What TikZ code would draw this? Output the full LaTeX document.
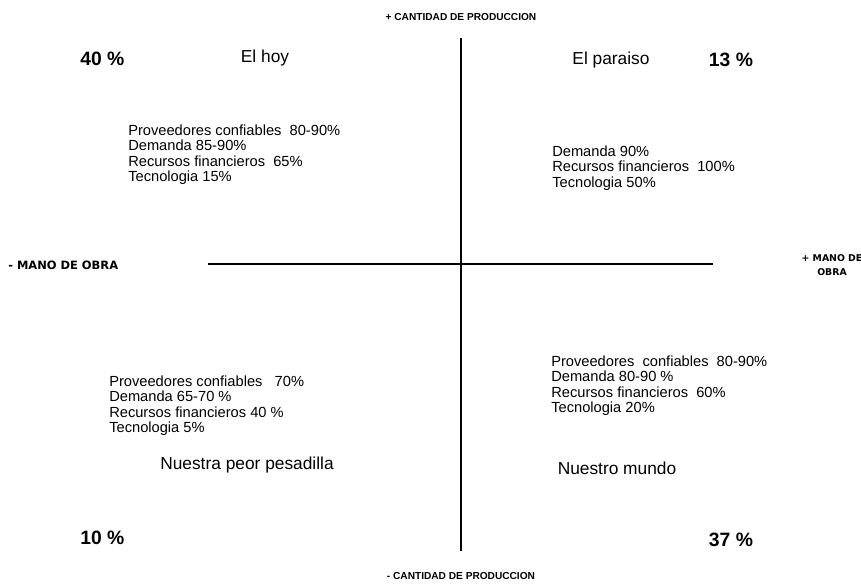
\documentclass[tikz,border=0pt]{standalone}
\usepackage{fontspec}
\setmainfont{Liberation Sans}
\newfontfamily\axisfont{DejaVu Sans}
\usepackage{tikz}
\usetikzlibrary{positioning}
\tikzset{
  every picture/.style={draw=black, text=black},
  axislabel/.style={font=\fontsize{7.6}{9}\selectfont\bfseries, inner sep=0pt},
  sidelabel/.style={font=\axisfont\fontsize{8.6}{10.5}\selectfont\bfseries, inner sep=0pt, align=center},
  quadtitle/.style={font=\fontsize{13}{15}\selectfont, inner sep=0pt},
  share/.style={font=\fontsize{14.5}{17}\selectfont\bfseries, inner sep=0pt},
  factors/.style={font=\fontsize{11}{11.3}\selectfont, inner sep=0pt, align=left, anchor=north west},
}

\begin{document}
\begin{tikzpicture}[x=0.75pt, y=-0.75pt]
\useasboundingbox (0,0) rectangle (861,585);
% Axes
\coordinate (top) at (461,38);
\coordinate (bottom) at (461,551);
\coordinate (left) at (208,264);
\coordinate (right) at (713,264);
\draw[line width=0.9pt] (top) -- (bottom);
\draw[line width=0.9pt] (left) -- (right);
\node[axislabel] (prodplus) at (461,17) {+ CANTIDAD DE PRODUCCION};
\node[axislabel] (prodminus) at (461,576) {- CANTIDAD DE PRODUCCION};
\node[sidelabel, anchor=west] (manominus) at (8,265) {- MANO DE OBRA};
\node[sidelabel, font=\axisfont\fontsize{7}{11}\selectfont\bfseries] (manoplus) at (832,265) {+ MANO DE\\OBRA};
% Upper left: El hoy
\node[share, anchor=west] (shareTL) at (80,59) {40 \%};
\node[quadtitle] (titleTL) at (265,58) {El hoy};
\node[factors] (listTL) at (128,125) {Proveedores confiables\ \ 80-90\%\\Demanda 85-90\%\\Recursos financieros\ \ 65\%\\Tecnologia 15\%};
% Upper right: El paraiso
\node[quadtitle] (titleTR) at (611,60) {El paraiso};
\node[share] (shareTR) at (731,60) {13 \%};
\node[factors] (listTR) at (552,146) {Demanda 90\%\\Recursos financieros\ \ 100\%\\Tecnologia 50\%};
% Lower left: Nuestra peor pesadilla
\node[factors] (listBL) at (109,376) {Proveedores confiables\ \ \ 70\%\\Demanda 65-70 \%\\Recursos financieros 40 \%\\Tecnologia 5\%};
\node[quadtitle] (titleBL) at (247,465) {Nuestra peor pesadilla};
\node[share, anchor=west] (shareBL) at (80,538) {10 \%};
% Lower right: Nuestro mundo
\node[factors] (listBR) at (551,356) {Proveedores\ \ confiables\ \ 80-90\%\\Demanda 80-90 \%\\Recursos financieros\ \ 60\%\\Tecnologia 20\%};
\node[quadtitle] (titleBR) at (617,468) {Nuestro mundo};
\node[share] (shareBR) at (731,540) {37 \%};
\end{tikzpicture}
\end{document}
